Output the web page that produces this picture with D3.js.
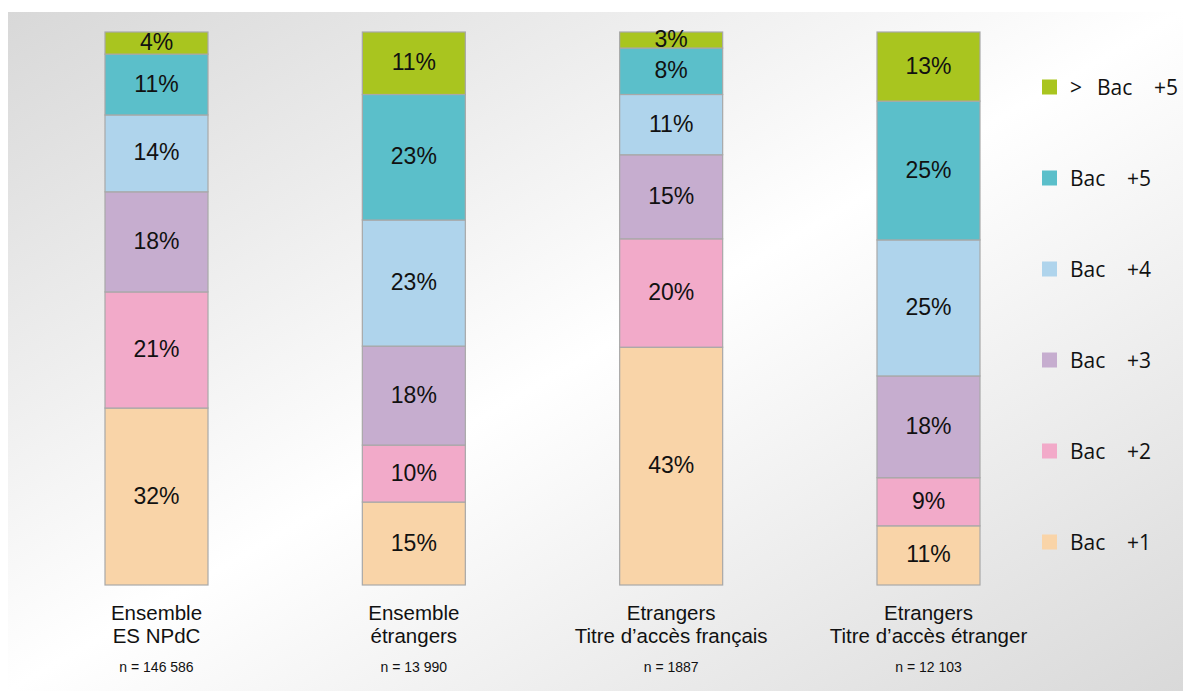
<!DOCTYPE html>
<html>
<head>
<meta charset="utf-8">
<script src="https://cdn.jsdelivr.net/npm/d3@7"></script>
<style>
  html, body { margin: 0; padding: 0; background: #ffffff; }
  svg { display: block; font-family: "Liberation Sans", Arial, sans-serif; }
</style>
</head>
<body>
<svg id="chart" width="1183" height="691"></svg>
<script>
// ---- data ----
const categories = ["Ensemble\nES NPdC", "Ensemble\nétrangers", "Etrangers\nTitre d’accès français", "Etrangers\nTitre d’accès étranger"];
const sampleSizes = ["n = 146 586", "n = 13 990", "n = 1887", "n = 12 103"];
const seriesNames = ["Bac +1", "Bac +2", "Bac +3", "Bac +4", "Bac +5", "> Bac +5"];
const bac1  = [32.0, 15.0, 43.0, 10.7];
const bac2  = [21.0, 10.3, 19.6, 8.7];
const bac3  = [18.1, 17.9, 15.2, 18.4];
const bac4  = [13.9, 22.8, 10.9, 24.6];
const bac5  = [11.0, 22.7, 8.4, 25.1];
const bac5p = [4.0, 11.3, 2.9, 12.5];
const colors = ["#f9d4a8", "#f2aac9", "#c6adcf", "#afd4ec", "#5bbfca", "#a9c51f"];

const seriesValues = [bac1, bac2, bac3, bac4, bac5, bac5p];

// ---- setup ----
const svg = d3.select("#chart");
const W = 1183, H = 691;

// background panel with diagonal gradient
const defs = svg.append("defs");
const grad = defs.append("linearGradient").attr("id", "bg")
  .attr("x1", 0).attr("y1", 0).attr("x2", 1).attr("y2", 1);
grad.append("stop").attr("offset", "0%").attr("stop-color", "#d8d8d8");
grad.append("stop").attr("offset", "50%").attr("stop-color", "#ffffff");
grad.append("stop").attr("offset", "100%").attr("stop-color", "#d9d9d9");
svg.append("rect").attr("x", 8).attr("y", 12).attr("width", W - 8).attr("height", H - 12)
  .attr("fill", "url(#bg)");

const x = d3.scalePoint().domain(categories).range([156.5, 928.5]);
const barW = 103;
const y = d3.scaleLinear().domain([0, 100]).range([585, 32]);

// stack
const rows = categories.map((c, i) => {
  const r = { cat: c };
  seriesNames.forEach((s, k) => r[s] = seriesValues[k][i]);
  return r;
});
const stack = d3.stack().keys(seriesNames)(rows);

const g = svg.append("g");
stack.forEach((layer, k) => {
  const key = layer.key;
  const lg = g.append("g");
  lg.selectAll("rect").data(layer).join("rect")
    .attr("x", d => x(d.data.cat) - barW / 2)
    .attr("y", d => y(d[1]))
    .attr("width", barW)
    .attr("height", d => y(d[0]) - y(d[1]))
    .attr("fill", colors[k])
    .attr("stroke", "#a8a8a8")
    .attr("stroke-width", 1.2);
  lg.selectAll("text").data(layer).join("text")
    .attr("x", d => x(d.data.cat))
    .attr("y", d => (y(d[0]) + y(d[1])) / 2 + 7)
    .attr("text-anchor", "middle")
    .attr("font-size", 23)
    .attr("fill", "#111")
    .text(d => Math.round(d.data[key]) + "%");
});

// category labels
categories.forEach((c, i) => {
  const lines = c.split("\n");
  const t = svg.append("text")
    .attr("text-anchor", "middle")
    .attr("font-size", 20.5)
    .attr("fill", "#111");
  lines.forEach((ln, j) => {
    t.append("tspan").attr("x", x(c)).attr("y", 620 + j * 23).text(ln);
  });
  svg.append("text")
    .attr("x", x(c)).attr("y", 672)
    .attr("text-anchor", "middle")
    .attr("font-size", 14)
    .attr("fill", "#111")
    .text(sampleSizes[i]);
});

// legend (top to bottom: > Bac +5 ... Bac +1)
const legendOrder = seriesNames.map((s, k) => ({ name: s, color: colors[k] })).reverse();
const ly = d3.scalePoint().domain(legendOrder.map(d => d.name)).range([87, 542]);
const lgd = svg.append("g").attr("font-family", "'Open Sans', 'DejaVu Sans', sans-serif");
legendOrder.forEach(d => {
  const cy = ly(d.name);
  lgd.append("rect").attr("x", 1042).attr("y", cy - 7.5).attr("width", 15).attr("height", 15)
    .attr("fill", d.color);
  const parts = d.name.split(" ");
  const hasPrefix = parts.length === 3;
  const t = lgd.append("text").attr("font-size", 21).attr("fill", "#111");
  let bx = 1070;
  if (hasPrefix) {
    t.append("tspan").attr("x", 1070).attr("y", cy + 8).text(parts[0]);
    bx = 1097;
  }
  const p = hasPrefix ? parts.slice(1) : parts;
  t.append("tspan").attr("x", bx).attr("y", cy + 8).text(p[0]);
  t.append("tspan").attr("x", bx + 57).attr("y", cy + 8).text(p[1]);
});
</script>
</body>
</html>
